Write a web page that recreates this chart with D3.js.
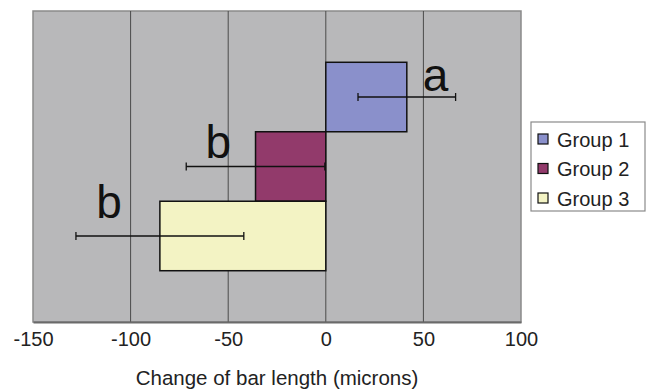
<!DOCTYPE html>
<html>
<head>
<meta charset="utf-8">
<script src="https://cdnjs.cloudflare.com/ajax/libs/d3/7.8.5/d3.min.js"></script>
<style>
  body { margin: 0; background: #fff; }
  svg text { font-family: "Liberation Sans", Arial, sans-serif; fill: #222; }
</style>
</head>
<body>
<div id="chart"></div>
<script>
// data
var groups = ["Group 1", "Group 2", "Group 3"];
var values = [41.5, -36, -85];
var errors = [25, 35.5, 43];
var letters = ["a", "b", "b"];
var colors = ["#8a90cb", "#923a6b", "#f3f3c4"];
var xTicks = [-150, -100, -50, 0, 50, 100];

var W = 647, H = 390;
var margin = {top: 11, right: 126, bottom: 68, left: 33},
    width = W - margin.left - margin.right,
    height = H - margin.top - margin.bottom;

var svg = d3.select("#chart").append("svg")
    .attr("width", W)
    .attr("height", H);

var g = svg.append("g")
    .attr("transform", "translate(" + margin.left + "," + margin.top + ")");

var x = d3.scaleLinear().domain([-150, 100]).range([0, width]);

// one category, three series stacked vertically (gap width 150%)
var yCat = d3.scaleBand().domain(["c"]).range([0, height]).paddingOuter(0.246).paddingInner(0);
var y = d3.scaleBand().domain(groups).range([yCat("c"), yCat("c") + yCat.bandwidth()]);

// plot background
g.append("rect")
    .attr("width", width)
    .attr("height", height)
    .attr("fill", "#b8b8ba")
    .attr("stroke", "#8a8a8a")
    .attr("stroke-width", 1.5);

// vertical gridlines
g.selectAll(".grid")
    .data(xTicks.slice(1, -1))
  .enter().append("line")
    .attr("x1", d => x(d)).attr("x2", d => x(d))
    .attr("y1", 0).attr("y2", height)
    .attr("stroke", "#4a4a4a")
    .attr("stroke-width", 1);

// bars
g.selectAll(".bar")
    .data(groups)
  .enter().append("rect")
    .attr("x", (d, i) => x(Math.min(0, values[i])))
    .attr("width", (d, i) => Math.abs(x(values[i]) - x(0)))
    .attr("y", d => y(d))
    .attr("height", y.bandwidth())
    .attr("fill", (d, i) => colors[i])
    .attr("stroke", "#111")
    .attr("stroke-width", 1.5);

// error bars
var eb = g.selectAll(".err")
    .data(groups)
  .enter().append("g")
    .attr("transform", d => "translate(0," + (y(d) + y.bandwidth() / 2) + ")");
eb.append("line")
    .attr("x1", (d, i) => x(values[i] - errors[i]))
    .attr("x2", (d, i) => x(values[i] + errors[i]))
    .attr("stroke", "#111").attr("stroke-width", 1.3);
eb.append("line")
    .attr("x1", (d, i) => x(values[i] - errors[i]))
    .attr("x2", (d, i) => x(values[i] - errors[i]))
    .attr("y1", -4).attr("y2", 4)
    .attr("stroke", "#111").attr("stroke-width", 1.3);
eb.append("line")
    .attr("x1", (d, i) => x(values[i] + errors[i]))
    .attr("x2", (d, i) => x(values[i] + errors[i]))
    .attr("y1", -4).attr("y2", 4)
    .attr("stroke", "#111").attr("stroke-width", 1.3);

// significance letters, placed next to the outer end of each error bar
var letterDx = [-20, 32, 33], letterDy = [-6, -9, -18];
g.selectAll(".letter")
    .data(groups)
  .enter().append("text")
    .attr("x", (d, i) => x(values[i] + Math.sign(values[i]) * errors[i]) + letterDx[i])
    .attr("y", (d, i) => y(d) + y.bandwidth() / 2 + letterDy[i])
    .attr("text-anchor", "middle")
    .style("font-size", "46px")
    .style("fill", "#111")
    .text((d, i) => letters[i]);

// x axis
var xAxis = g.append("g")
    .attr("transform", "translate(0," + height + ")")
    .call(d3.axisBottom(x).tickValues(xTicks).tickFormat(d => String(d)).tickSize(0).tickPadding(10));
xAxis.select(".domain").attr("stroke", "#6a6a6a").attr("stroke-width", 2);
xAxis.selectAll("text")
    .style("font-size", "20px")
    .style("font-family", "Liberation Sans, Arial, sans-serif")
    .attr("fill", "#222");

svg.append("text")
    .attr("x", margin.left + width / 2)
    .attr("y", 385)
    .attr("text-anchor", "middle")
    .style("font-size", "20.5px")
    .text("Change of bar length (microns)");

// legend
var lg = svg.append("g").attr("transform", "translate(531,122)");
lg.append("rect")
    .attr("width", 114).attr("height", 89)
    .attr("fill", "#fff")
    .attr("stroke", "#8a8a8a").attr("stroke-width", 1.2);
var li = lg.selectAll(".li")
    .data(groups)
  .enter().append("g")
    .attr("transform", (d, i) => "translate(7," + (18 + i * 29.5) + ")");
li.append("rect")
    .attr("x", 0).attr("y", -6)
    .attr("width", 10).attr("height", 10)
    .attr("fill", (d, i) => colors[i])
    .attr("stroke", "#111").attr("stroke-width", 1.2);
li.append("text")
    .attr("x", 19).attr("y", 6.5)
    .style("font-size", "20px")
    .text(d => d);
</script>
</body>
</html>
